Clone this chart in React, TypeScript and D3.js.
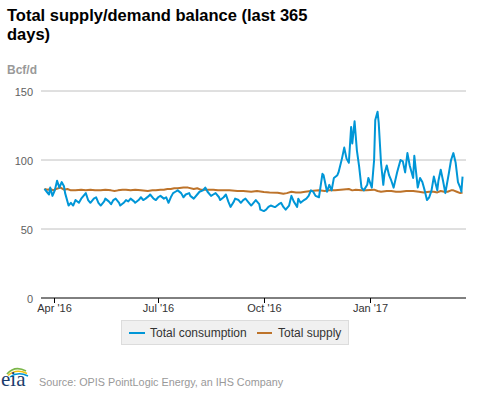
import React from "react";
import * as d3 from "d3";

const consumptionDates = [
  "2016-03-24","2016-03-26","2016-03-28","2016-03-29","2016-03-31","2016-04-02","2016-04-04","2016-04-06","2016-04-08","2016-04-10",
  "2016-04-11","2016-04-14","2016-04-16","2016-04-18","2016-04-20","2016-04-23","2016-04-25","2016-04-27","2016-04-29","2016-05-01",
  "2016-05-03","2016-05-06","2016-05-08","2016-05-10","2016-05-12","2016-05-15","2016-05-16","2016-05-19","2016-05-21","2016-05-23",
  "2016-05-25","2016-05-28","2016-05-29","2016-06-01","2016-06-03","2016-06-05","2016-06-07","2016-06-10","2016-06-11","2016-06-14",
  "2016-06-16","2016-06-18","2016-06-20","2016-06-23","2016-06-24","2016-06-27","2016-06-29","2016-07-01","2016-07-03","2016-07-06",
  "2016-07-08","2016-07-10","2016-07-12","2016-07-14","2016-07-16","2016-07-18","2016-07-21","2016-07-23","2016-07-25","2016-07-28",
  "2016-07-29","2016-08-01","2016-08-04","2016-08-06","2016-08-09","2016-08-11","2016-08-13","2016-08-16","2016-08-18","2016-08-20",
  "2016-08-23","2016-08-24","2016-08-27","2016-08-29","2016-08-31","2016-09-02","2016-09-05","2016-09-06","2016-09-09","2016-09-11",
  "2016-09-13","2016-09-15","2016-09-18","2016-09-20","2016-09-22","2016-09-24","2016-09-27","2016-09-28","2016-10-01","2016-10-03",
  "2016-10-05","2016-10-07","2016-10-10","2016-10-11","2016-10-14","2016-10-16","2016-10-18","2016-10-20","2016-10-23","2016-10-25",
  "2016-10-27","2016-10-30","2016-10-31","2016-11-02","2016-11-05","2016-11-07","2016-11-09","2016-11-11","2016-11-13","2016-11-15",
  "2016-11-18","2016-11-21","2016-11-22","2016-11-25","2016-11-27","2016-11-29","2016-12-01","2016-12-04","2016-12-05","2016-12-08",
  "2016-12-10","2016-12-12","2016-12-14","2016-12-16","2016-12-17","2016-12-19","2016-12-21","2016-12-23","2016-12-25","2016-12-27",
  "2016-12-30","2016-12-31","2017-01-03","2017-01-05","2017-01-06","2017-01-08","2017-01-09","2017-01-11","2017-01-13","2017-01-14",
  "2017-01-16","2017-01-18","2017-01-20","2017-01-22","2017-01-25","2017-01-26","2017-01-28","2017-01-30","2017-02-01","2017-02-03",
  "2017-02-05","2017-02-08","2017-02-09","2017-02-12","2017-02-14","2017-02-16","2017-02-18","2017-02-20","2017-02-22","2017-02-24",
  "2017-02-26","2017-03-01","2017-03-02","2017-03-04","2017-03-06","2017-03-08","2017-03-11","2017-03-13","2017-03-15","2017-03-17",
  "2017-03-19","2017-03-21","2017-03-22","2017-03-23"
];
const consumptionValues = [
  79,77,75,80,74,78,85,80,84,81,
  76,67,69,67,71,69,72,74,76,71,
  69,72,73,69,67,70,72,70,68,71,
  72,69,67,69,71,70,72,70,69,71,
  73,71,72,74,75,72,71,73,74,72,
  73,69,73,76,77,78,76,73,75,76,
  74,72,75,77,78,80,77,74,75,76,
  73,71,73,75,70,66,70,72,71,69,
  71,72,69,67,69,71,68,64,63,64,
  66,67,66,66,68,69,66,64,67,74,
  70,66,72,69,71,72,74,78,77,74,
  73,90,89,77,82,78,87,89,91,101,
  109,101,98,124,112,128,107,95,80,78,
  82,87,80,100,129,135,127,98,82,90,
  96,89,85,80,91,94,100,99,91,105,
  96,87,103,80,87,84,78,71,73,78,
  88,78,85,93,85,76,90,100,105,98,
  84,80,77,88
];

const supplyDates = [
  "2016-03-24","2016-03-27","2016-03-29","2016-04-01","2016-04-03","2016-04-07","2016-04-10","2016-04-13","2016-04-16","2016-04-20",
  "2016-04-25","2016-04-29","2016-05-03","2016-05-07","2016-05-12","2016-05-16","2016-05-21","2016-05-24","2016-05-27","2016-05-31",
  "2016-06-03","2016-06-07","2016-06-11","2016-06-16","2016-06-22","2016-06-26","2016-06-29","2016-07-03","2016-07-06","2016-07-09",
  "2016-07-12","2016-07-15","2016-07-18","2016-07-23","2016-07-27","2016-08-01","2016-08-04","2016-08-07","2016-08-12","2016-08-18",
  "2016-08-22","2016-08-27","2016-09-01","2016-09-08","2016-09-13","2016-09-20","2016-09-25","2016-10-01","2016-10-06","2016-10-13",
  "2016-10-18","2016-10-21","2016-10-25","2016-10-29","2016-11-02","2016-11-06","2016-11-11","2016-11-18","2016-11-23","2016-11-27",
  "2016-12-02","2016-12-07","2016-12-14","2016-12-17","2016-12-20","2016-12-25","2016-12-29","2017-01-05","2017-01-08","2017-01-11",
  "2017-01-16","2017-01-20","2017-01-24","2017-01-28","2017-02-02","2017-02-08","2017-02-13","2017-02-17","2017-02-22","2017-02-26",
  "2017-03-01","2017-03-04","2017-03-07","2017-03-10","2017-03-13","2017-03-15","2017-03-18","2017-03-21","2017-03-23"
];
const supplyValues = [
  79,78.5,79,78,79,80,78.5,79,78,78,
  78.5,78,78.5,78,78,78.5,78,77.5,78,78.5,
  78.5,78,78.5,78,77.5,78,78,78.5,78.5,79,
  79,79.5,79.5,80,80,79,79.5,78.5,78.5,78.5,
  78,78,78,77.5,77.5,77,77.5,76.8,76.5,76.3,
  75.5,76,77,76.5,76.5,77,77.5,78,77.5,78,
  78,78.5,79,78,78.5,78,78,78.5,77.5,77,
  77.5,77.5,77,77,77.5,77.5,77,76.5,77,77,
  76.5,77.5,77,77,78,78,77,76,76.5
];

const yTicks = [0, 50, 100, 150];
const xTickDates = ["2016-04-01", "2016-07-01", "2016-10-01", "2017-01-01"];
const xDomain = ["2016-03-21", "2017-03-26"];

const seriesNames = ["Total consumption", "Total supply"];
const seriesColors = ["#0096d7", "#bd732a"];

const parse = d3.utcParse("%Y-%m-%d");
const fmt = d3.utcFormat("%b '%y");

export default function App() {
  const W = 477, H = 393;
  const x = d3.scaleUtc().domain(xDomain.map((s) => parse(s) as Date)).range([41, 466]);
  const y = d3.scaleLinear().domain([0, 150]).range([298, 91]);

  const cons = consumptionDates.map((d, i) => ({ d: parse(d) as Date, v: consumptionValues[i] }));
  const sup = supplyDates.map((d, i) => ({ d: parse(d) as Date, v: supplyValues[i] }));
  const line = d3.line<{ d: Date; v: number }>().x((p) => x(p.d)).y((p) => y(p.v));

  const font = "'Liberation Sans', Arial, sans-serif";

  return (
    <svg width={W} height={H} style={{ position: "absolute", left: 0, top: 0, background: "#fff" }} fontFamily={font}>
      <rect x={0} y={0} width={W} height={H} fill="#fff" />
      <text x={7} y={21} fontSize={16.5} fontWeight="bold" fill="#000">Total supply/demand balance (last 365</text>
      <text x={7} y={40} fontSize={16.5} fontWeight="bold" fill="#000">days)</text>
      <text x={7} y={74} fontSize={12} fontWeight="bold" fill="#999">Bcf/d</text>

      {yTicks.map((t) => (
        <g key={t}>
          {t !== 0 && <line x1={41} x2={466} y1={y(t)} y2={y(t)} stroke="#c0c0c0" strokeWidth={1} />}
          <text x={33} y={y(t) + 5} textAnchor="end" fontSize={11} fill="#606060">{t}</text>
        </g>
      ))}

      <path d={line(sup) || ""} fill="none" stroke={seriesColors[1]} strokeWidth={2} strokeLinejoin="round" />
      <path d={line(cons) || ""} fill="none" stroke={seriesColors[0]} strokeWidth={2} strokeLinejoin="round" />

      <line x1={41} x2={466} y1={y(0)} y2={y(0)} stroke="#000" strokeWidth={1} />
      {xTickDates.map((s) => {
        const dt = parse(s) as Date;
        const px = Math.round(x(dt)) + 0.5;
        return (
          <g key={s}>
            <line x1={px} x2={px} y1={y(0)} y2={y(0) + 5} stroke="#000" strokeWidth={1} />
            <text x={px} y={312} textAnchor="middle" fontSize={11} fill="#333">{fmt(dt)}</text>
          </g>
        );
      })}

      <rect x={121.5} y={320.5} width={227} height={24} fill="#f0f0f0" stroke="#dcdcdc" />
      <line x1={129} x2={145} y1={333} y2={333} stroke={seriesColors[0]} strokeWidth={2} />
      <text x={150} y={337} fontSize={12} fill="#333">{seriesNames[0]}</text>
      <line x1={257} x2={272} y1={333} y2={333} stroke={seriesColors[1]} strokeWidth={2} />
      <text x={278} y={337} fontSize={12} fill="#333">{seriesNames[1]}</text>

      <g>
        <path d="M7,374 Q15,365 26,371" fill="none" stroke="#7ab648" strokeWidth={1.8} />
        <path d="M8,375.5 Q16,368 27,373.5" fill="none" stroke="#f2c314" strokeWidth={1.5} />
        <path d="M10,377 Q18,371 28,376" fill="none" stroke="#0096d7" strokeWidth={1.5} />
        <text x={1} y={386} fontSize={21} fontFamily="'Liberation Serif', 'DejaVu Serif', serif" fill="#1b3d6d">eia</text>
      </g>
      <text x={39} y={386} fontSize={10.8} fill="#999">Source: OPIS PointLogic Energy, an IHS Company</text>
    </svg>
  );
}
